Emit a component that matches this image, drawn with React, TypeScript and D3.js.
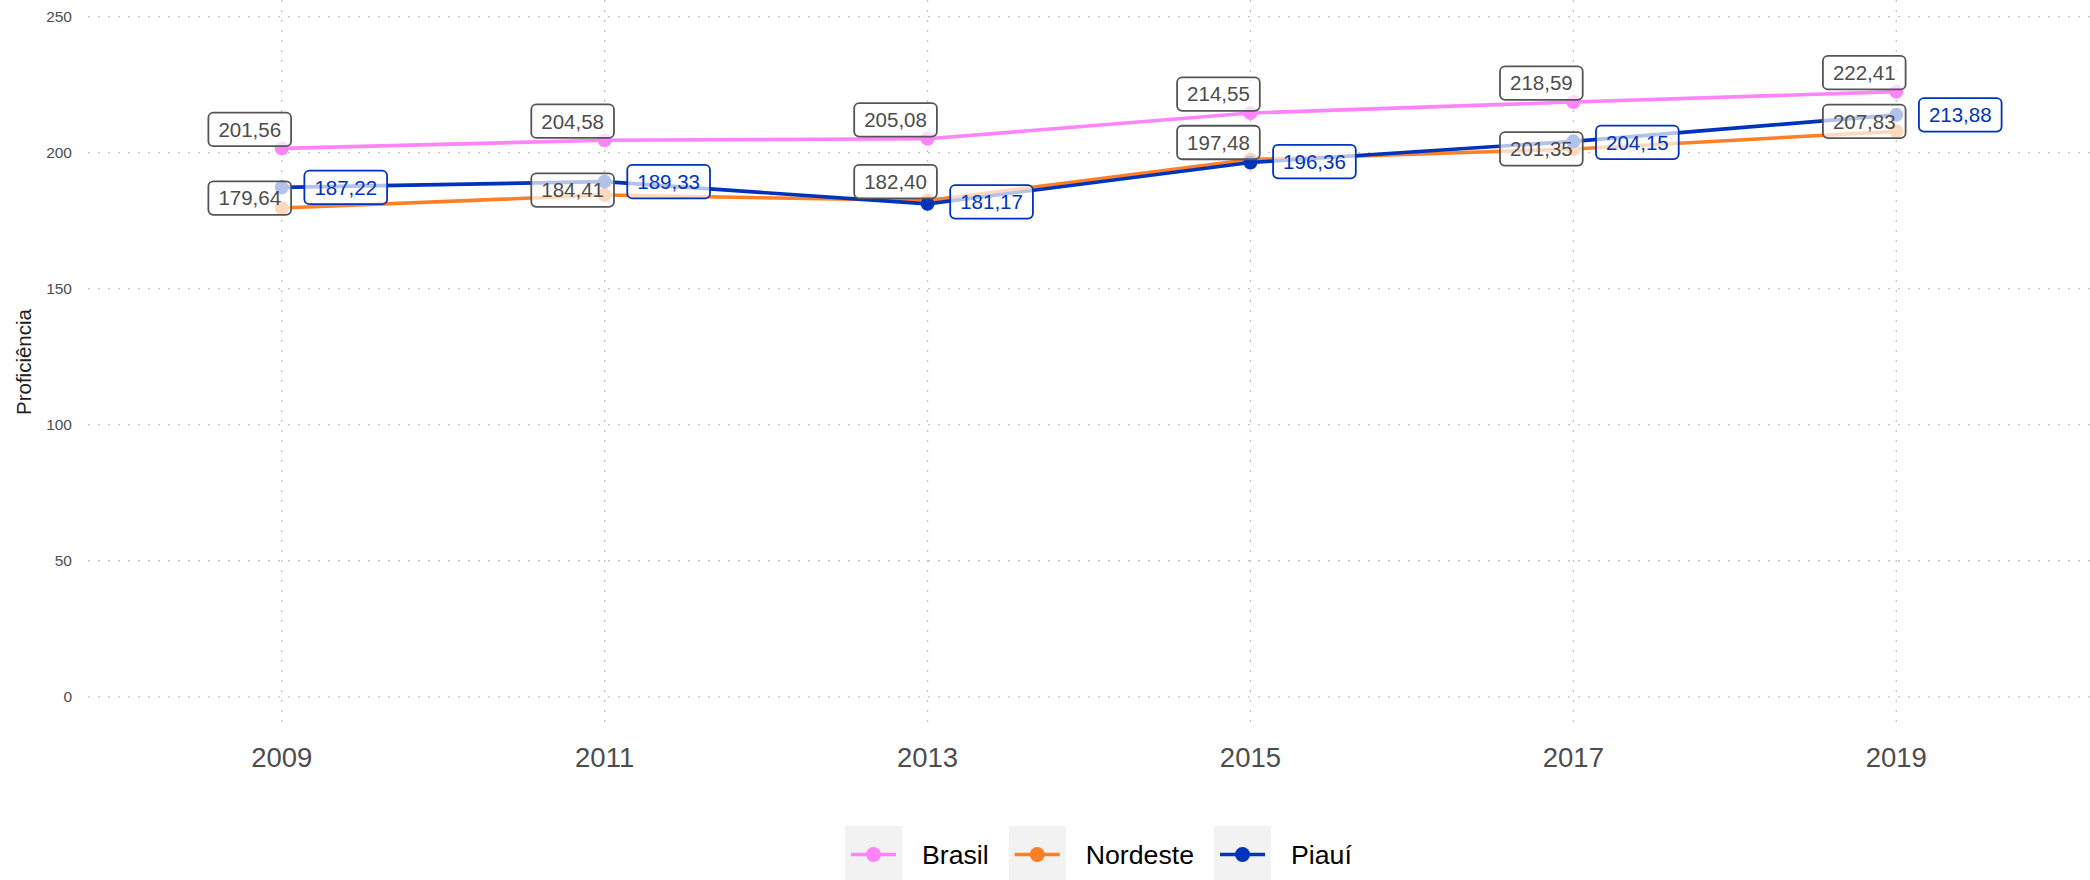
import React, { useEffect, useRef } from "react";
import * as d3 from "d3";

const years = [2009, 2011, 2013, 2015, 2017, 2019];
const seriesNames = ["Brasil", "Nordeste", "Piauí"];
const brasil = [201.56, 204.58, 205.08, 214.55, 218.59, 222.41];
const nordeste = [179.64, 184.41, 182.40, 197.48, 201.35, 207.83];
const piaui = [187.22, 189.33, 181.17, 196.36, 204.15, 213.88];
const yTicks = [0, 50, 100, 150, 200, 250];
const yTitle = "Proficiência";

// layout (label nudges in px, relative to the point)
const labelDx = [-32, -32, 64];
const labelDy = [
  [-19, -19, -19, -19, -19, -19],
  [-10, -5, -19, -17, 0, -10],
  [0, 0, -2, -1, 1, 0],
];
const colors = ["#FF83FA", "#FF7F24", "#0033BB"];
const labelText = ["#4D4D4D", "#4D4D4D", "#0033BB"];
const labelBorder = ["#555555", "#555555", "#0033BB"];

const W = 2090;
const H = 880;
const FONT = "'Liberation Sans', Arial, Helvetica, sans-serif";

export default function App() {
  const ref = useRef<SVGSVGElement | null>(null);

  useEffect(() => {
    const svg = d3.select(ref.current);
    svg.selectAll("*").remove();
    const values = [brasil, nordeste, piaui];

    const x = d3.scaleLinear().domain([2007.8, 2020.2]).range([88, 2090]);
    const y = d3.scaleLinear().domain([-12.2, 256.1]).range([730, 0]);
    const [pl, pr] = x.range();
    const [pb, pt] = y.range();

    const g = svg.append("g");

    // grid
    g.selectAll("line.hg")
      .data(yTicks)
      .join("line")
      .attr("x1", pl)
      .attr("x2", pr)
      .attr("y1", (d) => y(d))
      .attr("y2", (d) => y(d))
      .attr("stroke", "#C4C4C4")
      .attr("stroke-width", 1.3)
      .attr("stroke-dasharray", "2,8");
    g.selectAll("line.vg")
      .data(years)
      .join("line")
      .attr("x1", (d) => x(d))
      .attr("x2", (d) => x(d))
      .attr("y1", pt)
      .attr("y2", pb)
      .attr("stroke", "#C4C4C4")
      .attr("stroke-width", 1.3)
      .attr("stroke-dasharray", "2,8");

    // y tick labels
    g.selectAll("text.yt")
      .data(yTicks)
      .join("text")
      .attr("x", 72)
      .attr("y", (d) => y(d))
      .attr("dy", "0.35em")
      .attr("text-anchor", "end")
      .attr("font-family", FONT)
      .attr("font-size", 15.5)
      .attr("fill", "#4D4D4D")
      .text((d) => String(d));

    // x tick labels
    g.selectAll("text.xt")
      .data(years)
      .join("text")
      .attr("x", (d) => x(d))
      .attr("y", 757)
      .attr("dy", "0.35em")
      .attr("text-anchor", "middle")
      .attr("font-family", FONT)
      .attr("font-size", 27.5)
      .attr("fill", "#4D4D4D")
      .text((d) => String(d));

    // y title
    g.append("text")
      .attr("transform", `translate(24,${(pt + pb) / 2 - 3}) rotate(-90)`)
      .attr("dy", "0.35em")
      .attr("text-anchor", "middle")
      .attr("font-family", FONT)
      .attr("font-size", 20.5)
      .attr("fill", "#222")
      .text(yTitle);

    const line = d3
      .line<number>()
      .x((_, i) => x(years[i]))
      .y((d) => y(d));

    values.forEach((vals, s) => {
      g.append("path")
        .attr("d", line(vals))
        .attr("fill", "none")
        .attr("stroke", colors[s])
        .attr("stroke-width", 3.6);
    });
    values.forEach((vals, s) => {
      g.selectAll(`circle.p${s}`)
        .data(vals)
        .join("circle")
        .attr("cx", (_, i) => x(years[i]))
        .attr("cy", (d) => y(d))
        .attr("r", 7)
        .attr("fill", colors[s]);
    });

    // labels
    values.forEach((vals, s) => {
      vals.forEach((v, i) => {
        const cx = x(years[i]) + labelDx[s];
        const cy = y(v) + labelDy[s][i];
        const lg = g.append("g");
        const rect = lg.append("rect");
        const t = lg
          .append("text")
          .attr("x", cx)
          .attr("y", cy)
          .attr("dy", "0.36em")
          .attr("text-anchor", "middle")
          .attr("font-family", FONT)
          .attr("font-size", 20.5)
          .attr("fill", labelText[s])
          .text(v.toFixed(2).replace(".", ","));
        const tw = (t.node() as SVGTextElement).getComputedTextLength();
        const bw = tw + 20;
        const bh = 33.5;
        rect
          .attr("x", cx - bw / 2)
          .attr("y", cy - bh / 2)
          .attr("width", bw)
          .attr("height", bh)
          .attr("rx", 5)
          .attr("fill", "rgba(255,255,255,0.7)")
          .attr("stroke", labelBorder[s])
          .attr("stroke-width", 1.8);
      });
    });

    // legend
    const lgY = 826;
    const key = 57;
    const gap = 20;
    let lx = 845;
    seriesNames.forEach((name, s) => {
      const kg = g.append("g");
      kg.append("rect")
        .attr("x", lx)
        .attr("y", lgY)
        .attr("width", key)
        .attr("height", key)
        .attr("fill", "#F2F2F2");
      const ky = lgY + 28.5;
      kg.append("line")
        .attr("x1", lx + 6)
        .attr("x2", lx + key - 6)
        .attr("y1", ky)
        .attr("y2", ky)
        .attr("stroke", colors[s])
        .attr("stroke-width", 3.6);
      kg.append("circle")
        .attr("cx", lx + key / 2)
        .attr("cy", ky)
        .attr("r", 7.5)
        .attr("fill", colors[s]);
      const t = kg
        .append("text")
        .attr("x", lx + key + gap)
        .attr("y", ky)
        .attr("dy", "0.35em")
        .attr("font-family", FONT)
        .attr("font-size", 26.7)
        .attr("fill", "#000")
        .text(name);
      const tw = (t.node() as SVGTextElement).getComputedTextLength();
      lx = lx + key + gap + tw + gap;
    });
  }, []);

  return (
    <div style={{ position: "absolute", left: 0, top: 0, width: W, height: H, background: "#fff" }}>
      <svg ref={ref} width={W} height={H} style={{ display: "block" }} />
    </div>
  );
}
